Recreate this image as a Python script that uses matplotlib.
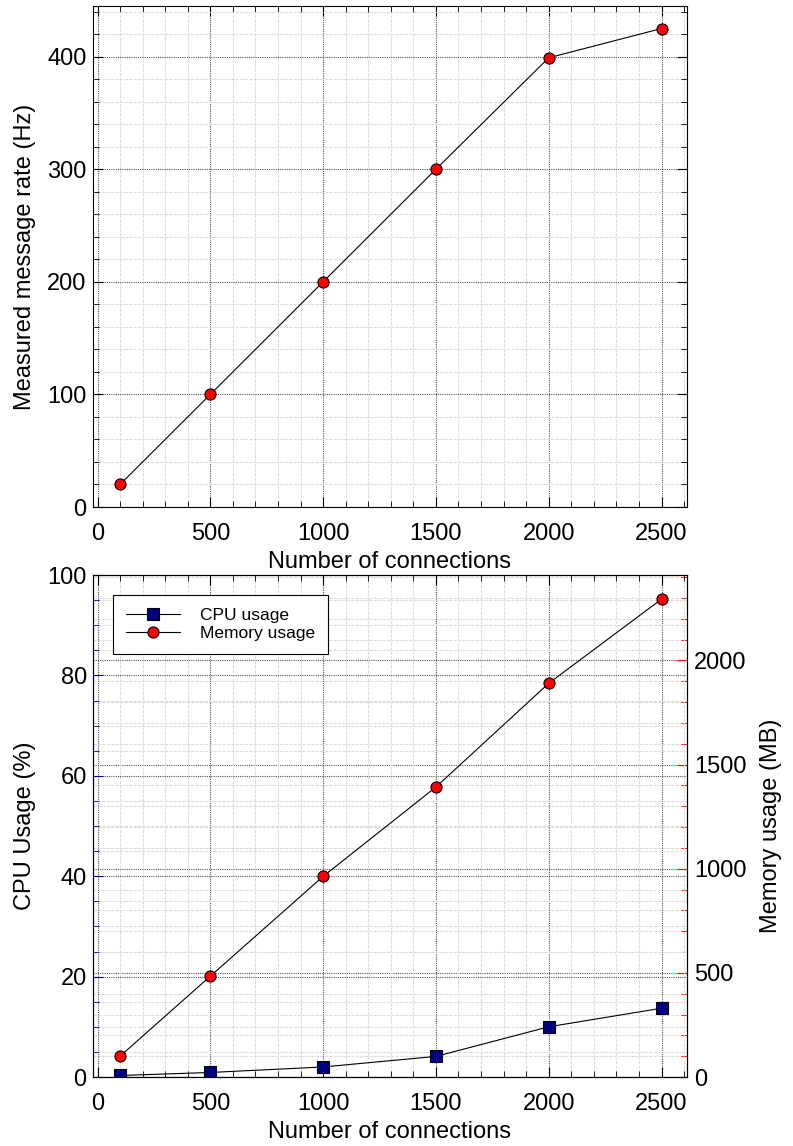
import numpy as np
import matplotlib
matplotlib.use('Agg')
import matplotlib.pyplot as plt
from matplotlib.ticker import MultipleLocator

plt.rcParams['font.family'] = ['Liberation Sans', 'DejaVu Sans']

# data
connections = [100, 500, 1000, 1500, 2000, 2500]
msg_rate = [20, 100, 200, 300, 399, 425]
cpu_usage = [0.3, 0.9, 2.0, 4.1, 10.0, 13.7]
mem_usage = [100, 484, 963, 1392, 1890, 2294]

FS = 17
MS = 8

fig = plt.figure(figsize=(7.93, 11.46), dpi=100)

def style_grid(ax):
    ax.grid(which='major', color='#555555', linestyle=(0, (1, 1)), linewidth=0.8)
    ax.grid(which='minor', color='#dddddd', linestyle=(0, (3, 1)), linewidth=0.8)
    ax.set_axisbelow(True)

# top panel
ax1 = fig.add_axes([93/793, 1 - 507/1146, 594/793, 501/1146])
ax1.plot(connections, msg_rate, color='black', linewidth=0.8, marker='o',
         markersize=MS, markerfacecolor='red', markeredgecolor='black', markeredgewidth=0.8)
ax1.set_xlim(-20, 2613)
ax1.set_ylim(0, 445)
ax1.xaxis.set_major_locator(MultipleLocator(500))
ax1.xaxis.set_minor_locator(MultipleLocator(100))
ax1.yaxis.set_major_locator(MultipleLocator(100))
ax1.yaxis.set_minor_locator(MultipleLocator(20))
ax1.tick_params(which='both', direction='in', top=True, right=True, labelsize=FS)
ax1.tick_params(which='major', length=7)
ax1.tick_params(which='minor', length=4)
ax1.tick_params(axis='x', pad=11.5)
ax1.tick_params(axis='y', pad=4.5)
style_grid(ax1)
ax1.set_xlabel('Number of connections', fontsize=FS, labelpad=4)
ax1.set_ylabel('Measured message rate (Hz)', fontsize=FS, labelpad=8)

# bottom panel: twin axis drawn first, main axis (transparent) on top
ax2 = fig.add_axes([93/793, 1 - 1077/1146, 594/793, 502/1146])
ax3 = ax2.twinx()
ax3.set_zorder(0)
ax2.set_zorder(1)
ax2.patch.set_visible(False)
ax3.patch.set_visible(True)
ax3.patch.set_facecolor('white')

ax2.set_xlim(-20, 2613)
ax2.set_ylim(0, 100)
ax3.set_ylim(0, 2410)

l1, = ax2.plot(connections, cpu_usage, color='black', linewidth=0.8, marker='s',
               markersize=MS, markerfacecolor='#000080', markeredgecolor='black',
               markeredgewidth=0.8, label='CPU usage')
# memory is on the right scale, drawn on the top axes through the twin's transform
l2, = ax2.plot(connections, mem_usage, transform=ax3.transData, color='black',
               linewidth=0.8, marker='o', markersize=MS, markerfacecolor='red',
               markeredgecolor='black', markeredgewidth=0.8, label='Memory usage')
ax2.set_ylim(0, 100)

ax2.xaxis.set_major_locator(MultipleLocator(500))
ax2.xaxis.set_minor_locator(MultipleLocator(100))
ax2.yaxis.set_major_locator(MultipleLocator(20))
ax2.yaxis.set_minor_locator(MultipleLocator(5))
ax3.yaxis.set_major_locator(MultipleLocator(500))
ax3.yaxis.set_minor_locator(MultipleLocator(100))
ax2.tick_params(which='both', direction='in', top=True, labelsize=FS)
ax2.tick_params(axis='y', which='both', color='#000099', pad=4.5)
ax2.tick_params(axis='x', pad=11.5)
ax2.tick_params(which='major', length=7)
ax2.tick_params(which='minor', length=4)
ax3.tick_params(which='both', direction='in', labelsize=FS, color='red', pad=5)
ax3.tick_params(which='major', length=7)
ax3.tick_params(which='minor', length=4)
style_grid(ax2)
style_grid(ax3)
ax2.set_xlabel('Number of connections', fontsize=FS, labelpad=4)
ax2.set_ylabel('CPU Usage (%)', fontsize=FS, labelpad=8)
ax3.set_ylabel('Memory usage (MB)', fontsize=FS, labelpad=10)
leg = ax2.legend([l1, l2], ['CPU usage', 'Memory usage'], loc='upper left',
                 bbox_to_anchor=(0.034, 0.96), fontsize=12.5, fancybox=False,
                 edgecolor='black', framealpha=1, handlelength=3.1, handletextpad=1.15,
                 borderpad=0.75, labelspacing=0.15, borderaxespad=0)
leg.get_frame().set_linewidth(0.8)

plt.savefig('out.png', dpi=100)
plt.close('all')
